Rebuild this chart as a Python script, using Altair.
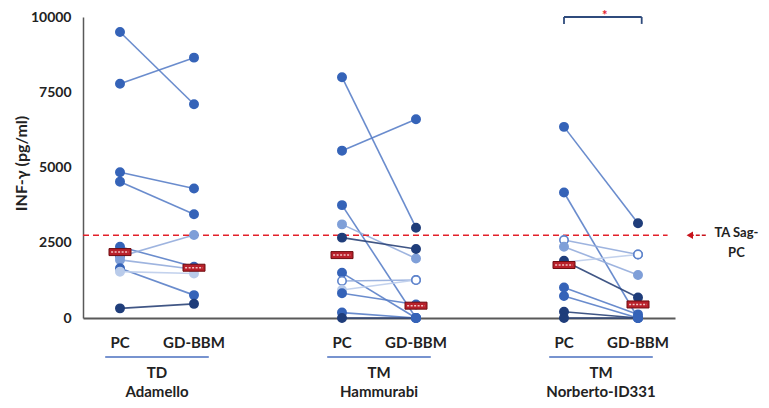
import altair as alt
import pandas as pd

# ---------------- data ----------------
group_line1 = ["TD", "TM", "TM"]
group_line2 = ["Adamello", "Hammurabi", "Norberto-ID331"]
time_labels = ["PC", "GD-BBM"]

g1_pc = [9500, 7780, 4840, 4530, 2370, 2040, 1930, 1650, 1540, 320]
g1_gd = [7100, 8650, 4300, 3450, 1700, 2760, 1620, 760, 1480, 470]
g1_pc_shade = ["mid", "mid", "mid", "mid", "mid", "hollow", "light", "mid", "pale", "dark"]
g1_gd_shade = ["mid", "mid", "mid", "mid", "mid", "light", "light", "mid", "pale", "dark"]
g1_line = ["mid", "mid", "mid", "mid", "mid", "light", "light", "mid", "pale", "dark"]

g2_pc = [8000, 5560, 3750, 3110, 2670, 1500, 1230, 930, 820, 180, 0]
g2_gd = [3000, 6600, 0, 1980, 2290, 0, 1260, 1260, 450, 0, 0]
g2_pc_shade = ["mid", "mid", "mid", "light", "dark", "mid", "hollow", "pale", "mid", "mid", "dark"]
g2_gd_shade = ["dark", "mid", "mid", "light", "dark", "mid", "hollow", "hollow", "mid", "mid", "mid"]
g2_line = ["mid", "mid", "mid", "light", "dark", "mid", "light", "pale", "mid", "mid", "dark"]

g3_pc = [6350, 4170, 2590, 2370, 1850, 1900, 1010, 730, 210, 0]
g3_gd = [3150, 0, 2110, 1430, 2110, 680, 120, 0, 0, 0]
g3_pc_shade = ["mid", "mid", "hollow", "light", "pale", "dark", "mid", "mid", "dark", "dark"]
g3_gd_shade = ["dark", "mid", "hollow", "light", "hollow", "dark", "mid", "mid", "mid", "mid"]
g3_line = ["mid", "mid", "light", "light", "pale", "dark", "mid", "mid", "dark", "dark"]

median_pc = [2190, 2090, 1760]
median_gd = [1670, 410, 450]

ta_sag_pc = 2750
signif_label = "*"

# ---------------- tables ----------------
groups = [
    (g1_pc, g1_gd, g1_pc_shade, g1_gd_shade, g1_line),
    (g2_pc, g2_gd, g2_pc_shade, g2_gd_shade, g2_line),
    (g3_pc, g3_gd, g3_pc_shade, g3_gd_shade, g3_line),
]
rows = []
for gi, (pc, gd, ps, gs, ls) in enumerate(groups):
    for si in range(len(pc)):
        sid = f"g{gi}_s{si}"
        rows.append(dict(subject=sid, x=gi * 3, value=pc[si], shade=ps[si], line=ls[si]))
        rows.append(dict(subject=sid, x=gi * 3 + 1, value=gd[si], shade=gs[si], line=ls[si]))
df = pd.DataFrame(rows)

med_rows = []
for gi in range(3):
    med_rows.append(dict(x=gi * 3, value=median_pc[gi]))
    med_rows.append(dict(x=gi * 3 + 1, value=median_gd[gi]))
med = pd.DataFrame(med_rows)

lab_rows = []
for gi in range(3):
    for ti, t in enumerate(time_labels):
        lab_rows.append(dict(x=gi * 3 + ti, label=t))
labels_df = pd.DataFrame(lab_rows)
grp_df = pd.DataFrame(dict(x=[gi * 3 + 0.5 for gi in range(3)],
                           l1=group_line1, l2=group_line2,
                           a=[gi * 3 - 0.2 for gi in range(3)],
                           b=[gi * 3 + 1.2 for gi in range(3)]))

# ---------------- styling ----------------
FONT = "Lato"
xs = alt.Scale(domain=[-0.5, 7.5], nice=False, zero=False)
ys = alt.Scale(domain=[0, 10000], nice=False)

AX_X = alt.Axis(labels=False, ticks=False, grid=False, title=None,
                domainColor="#595959", domainWidth=2)
AX_Y = alt.Axis(values=[0, 2500, 5000, 7500, 10000], format="d", grid=False, ticks=False,
                title="INF-γ (pg/ml)", titleFont=FONT, titleFontSize=16,
                titleFontWeight="bold", titleColor="#222222",
                titleX=-54, titleY=146, titleAngle=270, titleBaseline="bottom",
                titleAlign="center",
                labelFont=FONT, labelFontSize=14, labelFontWeight="bold",
                labelColor="#222222", labelPadding=12,
                domainColor="#595959", domainWidth=1.5)


def XQ(f):
    return alt.X(f, type="quantitative", scale=xs, axis=AX_X)


def YQ(f):
    return alt.Y(f, type="quantitative", scale=ys, axis=AX_Y)


shade_dom = ["dark", "mid", "light", "pale", "hollow"]
fill_rng = ["#1f3d7a", "#3563b8", "#7f9fd8", "#b9cbea", "#ffffff"]
stroke_rng = ["#1f3d7a", "#3563b8", "#7f9fd8", "#b9cbea", "#5f84cc"]
line_dom = ["dark", "mid", "light", "pale"]
line_rng = ["#2b4478", "#5a7fc8", "#93acdc", "#bccdeb"]

lines = alt.Chart(df).mark_line(strokeWidth=1.6, opacity=0.9).encode(
    x=XQ("x"), y=YQ("value"),
    detail="subject:N",
    color=alt.Color("line:N", scale=alt.Scale(domain=line_dom, range=line_rng), legend=None),
)

points = alt.Chart(df).mark_point(shape="circle", filled=True, size=70, strokeWidth=1.6,
                                  opacity=1).encode(
    x=XQ("x"), y=YQ("value"),
    fill=alt.Fill("shade:N", scale=alt.Scale(domain=shade_dom, range=fill_rng), legend=None),
    stroke=alt.Stroke("shade:N", scale=alt.Scale(domain=shade_dom, range=stroke_rng), legend=None),
)

med_box = alt.Chart(med).mark_tick(orient="horizontal", size=22, thickness=7,
                                   color="#b8202a", stroke="#6e0c10", strokeWidth=1,
                                   opacity=1).encode(x=XQ("x"), y=YQ("value"))
med_zig = alt.Chart(med).transform_calculate(a="datum.x - 0.12", b="datum.x + 0.12").mark_rule(
    color="#f4c4c4", strokeWidth=1.5, strokeDash=[2, 1.5]).encode(
    x=XQ("a"), x2="b:Q", y=YQ("value"))

ref_df = pd.DataFrame(dict(a=[-0.5], b=[7.4], v=[ta_sag_pc]))
ref_line = alt.Chart(ref_df).mark_rule(color="#e3202a", strokeDash=[6, 4], strokeWidth=1.6).encode(
    x=XQ("a"), x2="b:Q", y=YQ("v"))
arrow_df = pd.DataFrame(dict(a=[7.7], b=[7.93], v=[ta_sag_pc]))
arrow_shaft = alt.Chart(arrow_df).mark_rule(color="#c8141c", strokeDash=[4, 2], strokeWidth=1.6).encode(
    x=XQ("a"), x2="b:Q", y=YQ("v"))
arrow_head = alt.Chart(arrow_df).mark_point(shape="triangle-left", filled=True, size=55,
                                            color="#c8141c", opacity=1).encode(
    x=XQ("a"), y=YQ("v"))
ta_df = pd.DataFrame(dict(x=[8.33, 8.33], v=[2830, 2160], t=["TA Sag-", "PC"]))
ta_text = alt.Chart(ta_df).mark_text(font=FONT, fontSize=13, fontWeight="bold",
                                     color="#222222", align="center", baseline="middle").encode(
    x=XQ("x"), y=YQ("v"), text="t:N")

br_h = pd.DataFrame(dict(a=[6.0], b=[7.05], v=[10000]))
br_v = pd.DataFrame(dict(x=[6.0, 7.05], v=[10000, 10000], v2=[9770, 9770]))
bracket_h = alt.Chart(br_h).mark_rule(color="#2f4b7c", strokeWidth=1.8).encode(
    x=XQ("a"), x2="b:Q", y=YQ("v"))
bracket_v = alt.Chart(br_v).mark_rule(color="#2f4b7c", strokeWidth=1.8).encode(
    x=XQ("x"), y=YQ("v"), y2="v2:Q")
star = alt.Chart(pd.DataFrame(dict(x=[6.55], v=[10220], t=[signif_label]))).mark_text(
    color="#e3202a", fontSize=13, fontWeight="bold", font=FONT, baseline="top").encode(
    x=XQ("x"), y=YQ("v"), text="t:N")

time_text = alt.Chart(labels_df).mark_text(font=FONT, fontSize=15, fontWeight="bold",
                                           color="#222222", baseline="middle").encode(
    x=XQ("x"), y=alt.value(326), text="label:N")
underline = alt.Chart(grp_df).mark_rule(color="#4a6fbf", strokeWidth=1.6).encode(
    x=XQ("a"), x2="b:Q", y=alt.value(340))
grp1 = alt.Chart(grp_df).mark_text(font=FONT, fontSize=15, fontWeight="bold",
                                   color="#222222", baseline="middle").encode(
    x=XQ("x"), y=alt.value(356), text="l1:N")
grp2 = alt.Chart(grp_df).mark_text(font=FONT, fontSize=15, fontWeight="bold",
                                   color="#222222", baseline="middle").encode(
    x=XQ("x"), y=alt.value(375), text="l2:N")

chart = alt.layer(
    lines, ref_line, points, med_box, med_zig, arrow_shaft, arrow_head, ta_text,
    bracket_h, bracket_v, star, time_text, underline, grp1, grp2,
).properties(
    width=592, height=301,
    autosize=alt.AutoSizeParams(type="none"),
    padding={"left": 75, "top": 9, "right": 86, "bottom": 82},
).configure_view(stroke=None)

chart.save("out.html", embed_options={"renderer": "svg", "actions": False})
